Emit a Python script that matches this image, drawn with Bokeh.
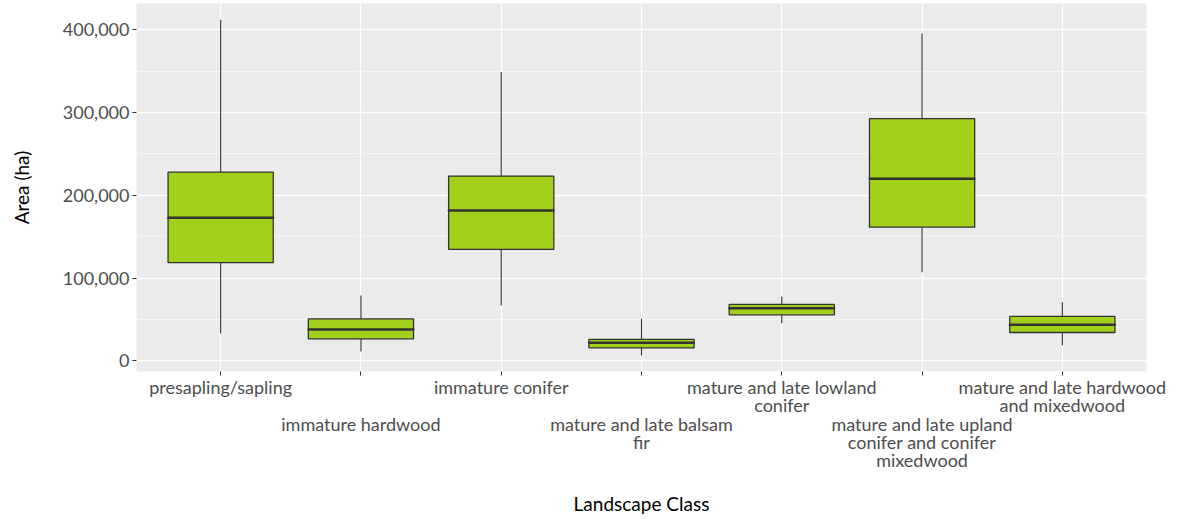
from bokeh.plotting import figure
from bokeh.models import LinearAxis, NumeralTickFormatter, SingleIntervalTicker, FixedTicker, Range1d, ColumnDataSource
from bokeh.embed import file_html
from bokeh.resources import INLINE

categories = ["presapling/sapling", "immature hardwood", "immature conifer",
              "mature and late balsam fir", "mature and late lowland conifer",
              "mature and late upland conifer and conifer mixedwood",
              "mature and late hardwood and mixedwood"]
tick_labels = ["presapling/sapling", "immature hardwood", "immature conifer",
               "mature and late balsam\nfir", "mature and late lowland\nconifer",
               "mature and late upland\nconifer and conifer\nmixedwood",
               "mature and late hardwood\nand mixedwood"]
whisker_low = [32900, 11200, 66900, 6400, 45500, 107000, 18500]
q1 = [118600, 26600, 134600, 15700, 55600, 161500, 34200]
median = [172800, 37800, 181700, 21800, 63600, 220000, 43500]
q3 = [228000, 50800, 223200, 25800, 68100, 292600, 53600]
whisker_high = [412300, 79000, 349000, 50800, 77800, 395400, 70900]
y_ticks = [0, 100000, 200000, 300000, 400000]

xs = list(range(1, len(categories) + 1))
src = ColumnDataSource(dict(x=xs, lo=whisker_low, q1=q1, med=median, q3=q3, hi=whisker_high))

FONT = "Lato"
LABEL_SIZE = "18px"
TITLE_SIZE = "19px"

p = figure(width=1178, height=519, output_backend="svg", toolbar_location=None,
           x_range=Range1d(0.4, 7.6), y_range=Range1d(-12900, 431800),
           x_axis_location=None,
           min_border_left=136, min_border_right=32, min_border_top=3, min_border_bottom=148,
           background_fill_color="#EBEBEB", border_fill_color="white", outline_line_color=None)

# grid
p.ygrid.ticker = SingleIntervalTicker(interval=100000, num_minor_ticks=2)
p.ygrid.grid_line_color = "white"
p.ygrid.grid_line_width = 1.3
p.ygrid.minor_grid_line_color = "#F7F7F7"
p.ygrid.minor_grid_line_width = 0.8
p.xgrid.ticker = FixedTicker(ticks=xs)
p.xgrid.grid_line_color = "white"
p.xgrid.grid_line_width = 1.3

# whiskers
p.segment(x0="x", y0="lo", x1="x", y1="q1", source=src, line_color="#333333", line_width=1.1)
p.segment(x0="x", y0="q3", x1="x", y1="hi", source=src, line_color="#333333", line_width=1.1)
# boxes
p.vbar(x="x", bottom="q1", top="q3", width=0.75, source=src, fill_color="#A2D11C",
       line_color="#333333", line_width=1.3)
# medians
p.rect(x="x", y="med", width=0.75, height=0.1, height_units="screen", source=src,
       fill_color=None, line_color="#333333", line_width=2.4)

# y axis
p.yaxis.ticker = FixedTicker(ticks=y_ticks)
p.yaxis.formatter = NumeralTickFormatter(format="0,0")
p.yaxis.axis_line_color = None
p.yaxis.major_tick_line_color = "#333333"
p.yaxis.major_tick_out = 4
p.yaxis.major_tick_in = 0
p.yaxis.minor_tick_line_color = None
p.yaxis.major_label_text_font = FONT
p.yaxis.major_label_text_font_size = LABEL_SIZE
p.yaxis.major_label_text_color = "#4D4D4D"
p.yaxis.major_label_standoff = 3
p.yaxis.axis_label = "Area (ha)"
p.yaxis.axis_label_text_font = FONT
p.yaxis.axis_label_text_font_size = TITLE_SIZE
p.yaxis.axis_label_text_font_style = "normal"
p.yaxis.axis_label_text_color = "black"
p.yaxis.axis_label_standoff = 27

# x axis in two staggered rows
row1 = {x: (lab if i % 2 == 0 else "") for i, (x, lab) in enumerate(zip(xs, tick_labels))}
row2 = {x: (lab if i % 2 == 1 else "") for i, (x, lab) in enumerate(zip(xs, tick_labels))}

ax1 = LinearAxis(ticker=FixedTicker(ticks=xs), major_label_overrides=row1)
ax2 = LinearAxis(ticker=FixedTicker(ticks=xs), major_label_overrides=row2)
for ax in (ax1, ax2):
    ax.axis_line_color = None
    ax.minor_tick_line_color = None
    ax.major_tick_in = 0
    ax.major_label_text_font = FONT
    ax.major_label_text_font_size = LABEL_SIZE
    ax.major_label_text_color = "#4D4D4D"
    ax.major_label_text_line_height = 0.82
ax1.major_label_standoff = 0
ax2.major_label_standoff = -6
ax1.major_tick_line_color = "#333333"
ax1.major_tick_out = 4
ax2.major_tick_line_color = None
ax2.major_tick_out = 0
ax2.axis_label = "Landscape Class"
ax2.axis_label_text_font = FONT
ax2.axis_label_text_font_size = TITLE_SIZE
ax2.axis_label_text_font_style = "normal"
ax2.axis_label_text_color = "black"
ax2.axis_label_standoff = 18
p.add_layout(ax1, "below")
p.add_layout(ax2, "below")

open("out.html", "w").write(file_html(p, INLINE))
